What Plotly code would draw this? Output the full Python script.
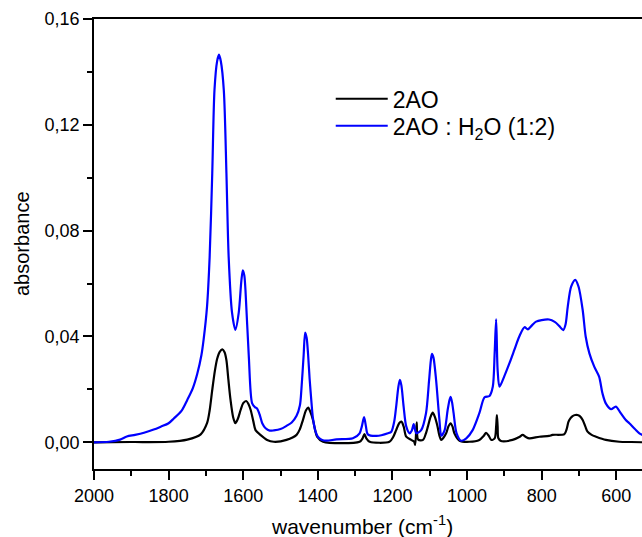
import plotly.graph_objects as go

# ---- data ----
wn_h2o = [2000, 1960, 1930, 1912, 1890, 1866, 1840, 1821, 1800, 1786, 1765, 1750, 1735, 1723,
          1712, 1706, 1697, 1690, 1683, 1677, 1670, 1665, 1660, 1652, 1645, 1639, 1630, 1621,
          1612, 1605, 1601, 1597, 1594, 1585, 1576, 1568, 1563, 1556, 1549, 1540, 1529, 1518,
          1500, 1484, 1470, 1457, 1448, 1444, 1438, 1434, 1430, 1426, 1422, 1417, 1413, 1406,
          1400, 1390, 1377, 1350, 1306, 1288, 1282, 1276, 1271, 1266, 1243, 1212, 1203, 1195,
          1190, 1184, 1180, 1176, 1170, 1163, 1154, 1148, 1143, 1139, 1136, 1123, 1110, 1102,
          1097, 1094, 1090, 1083, 1074, 1069, 1060, 1052, 1047, 1044, 1040, 1036, 1028, 1016,
          1002, 985, 967, 953, 940, 931, 926, 922, 918, 913, 900, 886, 873, 860, 846, 837, 826,
          815, 800, 780, 765, 753, 742, 736, 730, 721, 710, 701, 690, 682, 672, 659, 646, 637,
          628, 614, 601, 588, 575, 565, 550, 538, 525]
abs_h2o = [0.0000, 0.0002, 0.0010, 0.0022, 0.0028, 0.0036, 0.0048, 0.0059, 0.0072, 0.0090,
           0.0120, 0.0160, 0.0205, 0.0260, 0.0330, 0.0390, 0.0513, 0.0700, 0.1017, 0.1332,
           0.1440, 0.1465, 0.1440, 0.1330, 0.1017, 0.0700, 0.0490, 0.0425, 0.0490, 0.0610,
           0.0650, 0.0630, 0.0576, 0.0324, 0.0147, 0.0132, 0.0128, 0.0105, 0.0072, 0.0053,
           0.0044, 0.0045, 0.0050, 0.0062, 0.0075, 0.0100, 0.0140, 0.0200, 0.0330, 0.0415,
           0.0395, 0.0330, 0.0240, 0.0150, 0.0090, 0.0040, 0.0021, 0.0010, 0.0006, 0.0011,
           0.0015, 0.0034, 0.0060, 0.0095, 0.0060, 0.0030, 0.0024, 0.0034, 0.0040, 0.0080,
           0.0135, 0.0210, 0.0236, 0.0215, 0.0135, 0.0060, 0.0034, 0.0045, 0.0069, 0.0045,
           0.0034, 0.0046, 0.0110, 0.0230, 0.0310, 0.0334, 0.0320, 0.0236, 0.0084, 0.0025,
           0.0046, 0.0122, 0.0160, 0.0172, 0.0150, 0.0110, 0.0034, 0.0006, 0.0015, 0.0046,
           0.0110, 0.0170, 0.0175, 0.0210, 0.0336, 0.0465, 0.0273, 0.0210, 0.0250, 0.0300,
           0.0350, 0.0400, 0.0435, 0.0427, 0.0442, 0.0456, 0.0462, 0.0464, 0.0455, 0.0440,
           0.0424, 0.0445, 0.0513, 0.0588, 0.0614, 0.0588, 0.0500, 0.0400, 0.0336, 0.0286,
           0.0248, 0.0185, 0.0147, 0.0125, 0.0135, 0.0110, 0.0085, 0.0072, 0.0050, 0.0034,
           0.0025]

wn_2ao = [2000, 1900, 1800, 1750, 1714, 1697, 1690, 1683, 1676, 1670, 1663, 1656, 1650, 1645,
          1640, 1634, 1627, 1621, 1614, 1607, 1600, 1592, 1586, 1580, 1573, 1567, 1554, 1536,
          1518, 1484, 1457, 1448, 1440, 1432, 1426, 1420, 1413, 1407, 1402, 1386, 1288, 1280,
          1275, 1270, 1261, 1208, 1198, 1190, 1182, 1176, 1170, 1163, 1150, 1142, 1139, 1135,
          1131, 1118, 1110, 1105, 1098, 1092, 1086, 1079, 1074, 1069, 1056, 1050, 1044, 1039,
          1034, 1020, 994, 967, 955, 949, 942, 935, 926, 922, 920, 918, 916, 909, 878, 860,
          851, 842, 833, 806, 780, 771, 739, 733, 728, 722, 717, 710, 704, 697, 690, 683, 677,
          666, 654, 628, 592, 560, 525]
abs_2ao = [0.0000, 0.0001, 0.0002, 0.0010, 0.0030, 0.0072, 0.0120, 0.0198, 0.0270, 0.0315,
           0.0342, 0.0351, 0.0340, 0.0310, 0.0240, 0.0160, 0.0095, 0.0072, 0.0090, 0.0122,
           0.0148, 0.0156, 0.0145, 0.0122, 0.0080, 0.0046, 0.0028, 0.0009, 0.0002, 0.0009,
           0.0028, 0.0050, 0.0084, 0.0120, 0.0131, 0.0115, 0.0084, 0.0045, 0.0021, 0.0002,
           0.0002, 0.0015, 0.0031, 0.0015, 0.0002, 0.0002, 0.0020, 0.0046, 0.0072, 0.0078,
           0.0060, 0.0021, 0.0009, 0.0003, -0.0010, 0.0075, 0.0010, 0.0009, 0.0035, 0.0059,
           0.0095, 0.0112, 0.0095, 0.0059, 0.0025, 0.0009, 0.0034, 0.0060, 0.0072, 0.0060,
           0.0034, 0.0006, 0.0002, 0.0009, 0.0025, 0.0036, 0.0025, 0.0009, 0.0015, 0.0060,
           0.0103, 0.0060, 0.0015, 0.0005, 0.0009, 0.0020, 0.0028, 0.0020, 0.0015, 0.0021,
           0.0024, 0.0028, 0.0031, 0.0050, 0.0078, 0.0092, 0.0099, 0.0103, 0.0103, 0.0098,
           0.0084, 0.0060, 0.0040, 0.0028, 0.0021, 0.0009, 0.0002, 0.0001, 0.0000]

x_tickvals = [2000, 1800, 1600, 1400, 1200, 1000, 800, 600]
x_ticktext = ["2000", "1800", "1600", "1400", "1200", "1000", "800", "600"]
x_minor = [1900, 1700, 1500, 1300, 1100, 900, 700]
y_tickvals = [0.0, 0.04, 0.08, 0.12, 0.16]
y_ticktext = ["0,00", "0,04", "0,08", "0,12", "0,16"]
y_minor = [0.02, 0.06, 0.10, 0.14]

FONT = "Arial, Liberation Sans, sans-serif"

fig = go.Figure()
fig.add_trace(go.Scatter(x=wn_2ao, y=abs_2ao, mode="lines", name="2AO", legend="legend",
                         line=dict(color="#000000", width=2.2, shape="spline", smoothing=0.8)))
fig.add_trace(go.Scatter(x=wn_h2o, y=abs_h2o, mode="lines", name="2AO : H<sub>2</sub>O (1:2)",
                         legend="legend2",
                         line=dict(color="#0000ff", width=2.2, shape="spline", smoothing=0.8)))

legend_common = dict(xanchor="left", yanchor="top", bgcolor="rgba(0,0,0,0)", borderwidth=0,
                     font=dict(size=23, family=FONT), itemwidth=52)

fig.update_layout(
    width=642, height=537,
    margin=dict(l=94, r=0, t=19, b=68),
    paper_bgcolor="white", plot_bgcolor="white",
    font=dict(family=FONT, color="black", size=18),
    showlegend=True,
    legend=dict(x=0.432, y=0.8705, **legend_common),
    legend2=dict(x=0.432, y=0.8105, **legend_common),
    xaxis=dict(range=[2000, 531], showgrid=False, zeroline=False,
               showline=True, linecolor="black", linewidth=1.8, mirror=True,
               ticks="outside", ticklen=9, tickwidth=1.5, tickcolor="black",
               tickvals=x_tickvals, ticktext=x_ticktext,
               tickfont=dict(size=18, family=FONT),
               minor=dict(tickvals=x_minor, ticks="outside", ticklen=5,
                          tickwidth=1.5, tickcolor="black")),
    yaxis=dict(range=[-0.0101, 0.16], showgrid=False, zeroline=False,
               showline=True, linecolor="black", linewidth=1.8,
               ticks="outside", ticklen=9, tickwidth=1.5, tickcolor="black",
               tickvals=y_tickvals, ticktext=y_ticktext,
               tickfont=dict(size=18, family=FONT),
               minor=dict(tickvals=y_minor, ticks="outside", ticklen=5,
                          tickwidth=1.5, tickcolor="black")),
    annotations=[
        dict(text="wavenumber (cm<sup>-1</sup>)", xref="paper", yref="paper",
             x=(362 - 94) / 548, y=-(525 - 469) / 450, xanchor="center", yanchor="middle",
             showarrow=False, font=dict(size=21, family=FONT)),
        dict(text="absorbance", xref="paper", yref="paper",
             x=-(94 - 22) / 548, y=0.5, xanchor="center", yanchor="middle",
             textangle=-90, showarrow=False, font=dict(size=20, family=FONT)),
    ],
)

fig.write_html("out.html", config={"displayModeBar": False},
               post_script="document.body.style.margin='0';document.body.style.padding='0';")
